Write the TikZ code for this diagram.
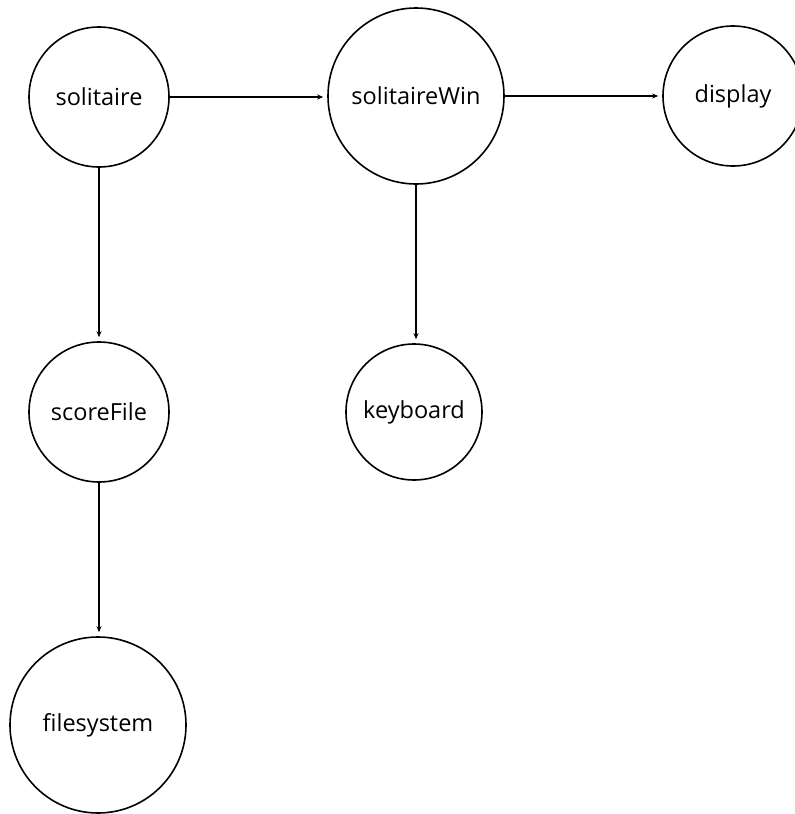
\documentclass[tikz,border=0pt]{standalone}
\usepackage{fontspec}
\setmainfont{Open Sans}
\usetikzlibrary{arrows.meta}
\begin{document}
\begin{tikzpicture}[x=1pt,y=-1pt,
  proc/.style={circle,draw,line width=1.6pt,inner sep=0pt,font=\fontsize{23.5}{28}\selectfont},
  flow/.style={line width=1.1pt,-{Stealth[length=6pt,width=5pt]},shorten >=4pt}]
\useasboundingbox (0,0) rectangle (795,814);
\node[proc,minimum size=140pt] (sol) at (99,97) {solitaire};
\node[proc,minimum size=176pt] (win) at (416,96) {solitaireWin};
\node[proc,minimum size=140pt] (disp) at (733,96) {display};
\node[proc,minimum size=140pt] (score) at (99,412) {scoreFile};
\node[proc,minimum size=136pt] (kbd) at (414,412) {keyboard};
\node[proc,minimum size=176pt] (fs) at (98,725) {filesystem};
\draw[flow] (sol.east) -- (sol.east -| win.west);
\draw[flow] (win.east) -- (win.east -| disp.west);
\draw[flow] (sol.south) -- (sol.south |- score.north);
\draw[flow] (win.south) -- (win.south |- kbd.north);
\draw[flow] (score.south) -- (score.south |- fs.north);
\end{tikzpicture}
\end{document}
